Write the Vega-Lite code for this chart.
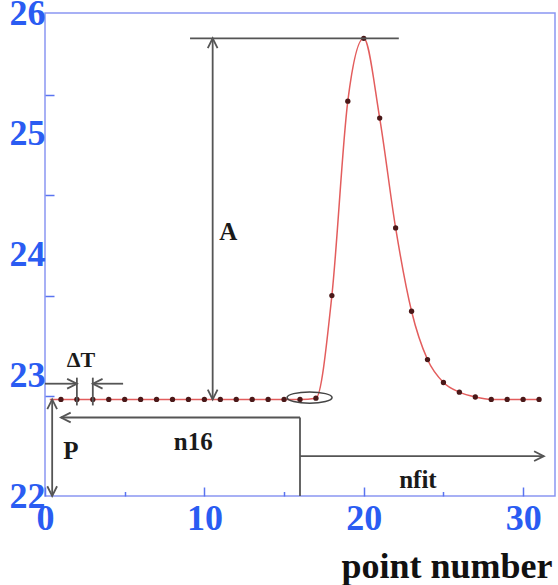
{
  "$schema": "https://vega.github.io/schema/vega-lite/v6.json",
  "width": 510,
  "height": 483,
  "autosize": {"type": "none"},
  "padding": {"left": 45, "top": 13, "right": 3, "bottom": 89},
  "background": "white",
  "config": {
    "view": {"stroke": "#8a96f2", "strokeWidth": 1.5},
    "axis": {
      "grid": false,
      "domain": false,
      "labelFont": "Liberation Serif",
      "labelFontWeight": "bold",
      "labelFontSize": 36,
      "labelColor": "#2a5cf2",
      "tickColor": "#5a74f0",
      "tickWidth": 1.5,
      "labelFlush": false,
      "labelOverlap": false
    }
  },
  "datasets": {
    "samples": [
      {"point": 1, "adc": 22.8}, {"point": 2, "adc": 22.8}, {"point": 3, "adc": 22.8},
      {"point": 4, "adc": 22.8}, {"point": 5, "adc": 22.8}, {"point": 6, "adc": 22.8},
      {"point": 7, "adc": 22.8}, {"point": 8, "adc": 22.8}, {"point": 9, "adc": 22.8},
      {"point": 10, "adc": 22.8}, {"point": 11, "adc": 22.8}, {"point": 12, "adc": 22.8},
      {"point": 13, "adc": 22.8}, {"point": 14, "adc": 22.8}, {"point": 15, "adc": 22.8},
      {"point": 16, "adc": 22.8}, {"point": 17, "adc": 22.81}, {"point": 18, "adc": 23.66},
      {"point": 19, "adc": 25.27}, {"point": 20, "adc": 25.79}, {"point": 21, "adc": 25.13},
      {"point": 22, "adc": 24.22}, {"point": 23, "adc": 23.53}, {"point": 24, "adc": 23.13},
      {"point": 25, "adc": 22.94}, {"point": 26, "adc": 22.86}, {"point": 27, "adc": 22.82},
      {"point": 28, "adc": 22.8}, {"point": 29, "adc": 22.8}, {"point": 30, "adc": 22.8},
      {"point": 31, "adc": 22.8}
    ],
    "fit": [
      {"point": 0.3, "adc": 22.8}, {"point": 4, "adc": 22.8}, {"point": 8, "adc": 22.8},
      {"point": 12, "adc": 22.8}, {"point": 16, "adc": 22.8}, {"point": 17, "adc": 22.81},
      {"point": 18, "adc": 23.66}, {"point": 19, "adc": 25.27}, {"point": 20, "adc": 25.79},
      {"point": 21, "adc": 25.13}, {"point": 22, "adc": 24.22}, {"point": 23, "adc": 23.53},
      {"point": 24, "adc": 23.13}, {"point": 25, "adc": 22.94}, {"point": 26, "adc": 22.86},
      {"point": 27, "adc": 22.82}, {"point": 28, "adc": 22.8}, {"point": 31, "adc": 22.8}
    ],
    "segments": [
      {"name": "amp-top", "x": 9.1, "x2": 22.2, "y": 25.79, "y2": 25.79},
      {"name": "A", "x": 10.52, "x2": 10.52, "y": 22.8, "y2": 25.79},
      {"name": "dT-left", "x": 0, "x2": 2, "y": 22.93, "y2": 22.93},
      {"name": "dT-right", "x": 3, "x2": 4.9, "y": 22.93, "y2": 22.93},
      {"name": "dT-mark2", "x": 2, "x2": 2, "y": 22.75, "y2": 22.98},
      {"name": "dT-mark3", "x": 3, "x2": 3, "y": 22.75, "y2": 22.98},
      {"name": "P", "x": 0.45, "x2": 0.45, "y": 22, "y2": 22.8},
      {"name": "n16", "x": 1, "x2": 16, "y": 22.65, "y2": 22.65},
      {"name": "n16-end", "x": 16, "x2": 16, "y": 22, "y2": 22.65},
      {"name": "nfit", "x": 16, "x2": 31.3, "y": 22.33, "y2": 22.33}
    ],
    "heads": [
      {"x": 10.52, "y": 25.79, "dir": "up"},
      {"x": 10.52, "y": 22.8, "dir": "down"},
      {"x": 2, "y": 22.93, "dir": "right"},
      {"x": 3, "y": 22.93, "dir": "left"},
      {"x": 0.45, "y": 22.8, "dir": "up"},
      {"x": 0.45, "y": 22, "dir": "down"},
      {"x": 1, "y": 22.65, "dir": "left"},
      {"x": 31.3, "y": 22.33, "dir": "right"}
    ],
    "ring": [{"x": 16.6, "y": 22.815}],
    "labels": [
      {"text": "A", "x": 11.5, "y": 24.19, "kind": "big"},
      {"text": "P", "x": 1.63, "y": 22.37, "kind": "big"},
      {"text": "n16", "x": 9.3, "y": 22.45, "kind": "big"},
      {"text": "nfit", "x": 23.4, "y": 22.13, "kind": "big"},
      {"text": "ΔT", "x": 2.25, "y": 23.13, "kind": "small"}
    ]
  },
  "resolve": {"axis": {"x": "independent", "y": "independent"}},
  "layer": [
    {
      "data": {"name": "fit"},
      "mark": {"type": "line", "color": "#e35d5d", "strokeWidth": 1.5, "interpolate": "monotone"},
      "encoding": {
        "x": {
          "field": "point", "type": "quantitative",
          "scale": {"domain": [0, 32], "nice": false, "zero": false},
          "axis": {
            "orient": "bottom", "values": [0, 10, 20, 30], "tickSize": -9,
            "labelPadding": 14,
            "title": "point number", "titleFont": "Liberation Serif", "titleFontWeight": "bold",
            "titleFontSize": 36, "titleColor": "#111111", "titleAnchor": "end",
            "titleAlign": "right", "titleBaseline": "alphabetic", "titleX": 507, "titleY": 81
          }
        },
        "y": {
          "field": "adc", "type": "quantitative",
          "scale": {"domain": [22, 26], "nice": false, "zero": false},
          "axis": {
            "orient": "left", "values": [22, 23, 24, 25, 26], "ticks": false,
            "labelPadding": 0, "labelBaseline": "middle", "title": null
          }
        }
      }
    },
    {
      "data": {"name": "samples"},
      "mark": {"type": "point", "filled": true, "color": "#4a1818", "size": 28, "opacity": 1},
      "encoding": {
        "x": {
          "field": "point", "type": "quantitative",
          "scale": {"domain": [0, 32], "nice": false, "zero": false},
          "axis": {"orient": "bottom", "values": [5, 15, 25], "tickSize": -4.5, "labels": false, "title": null}
        },
        "y": {
          "field": "adc", "type": "quantitative",
          "scale": {"domain": [22, 26], "nice": false, "zero": false},
          "axis": {"orient": "left", "values": [22.83, 23.66, 24.49, 25.32], "tickSize": -9, "labels": false, "title": null}
        }
      }
    },
    {
      "data": {"name": "segments"},
      "mark": {"type": "rule", "color": "#555555", "strokeWidth": 1.8},
      "encoding": {
        "x": {"field": "x", "type": "quantitative", "scale": {"domain": [0, 32], "nice": false, "zero": false}, "axis": null},
        "x2": {"field": "x2"},
        "y": {"field": "y", "type": "quantitative", "scale": {"domain": [22, 26], "nice": false, "zero": false}, "axis": null},
        "y2": {"field": "y2"}
      }
    },
    {
      "data": {"name": "heads"},
      "mark": {"type": "point", "filled": false, "stroke": "#555555", "strokeWidth": 1.8, "size": 380, "opacity": 1},
      "encoding": {
        "x": {"field": "x", "type": "quantitative", "scale": {"domain": [0, 32], "nice": false, "zero": false}, "axis": null},
        "y": {"field": "y", "type": "quantitative", "scale": {"domain": [22, 26], "nice": false, "zero": false}, "axis": null},
        "shape": {
          "field": "dir", "type": "nominal", "legend": null,
          "scale": {
            "domain": ["up", "down", "left", "right"],
            "range": [
              "M-0.5,1L0,0L0.5,1",
              "M-0.5,-1L0,0L0.5,-1",
              "M1,-0.5L0,0L1,0.5",
              "M-1,-0.5L0,0L-1,0.5"
            ]
          }
        }
      }
    },
    {
      "data": {"name": "ring"},
      "mark": {
        "type": "point", "filled": false, "stroke": "#444444", "strokeWidth": 1.5, "size": 2025, "opacity": 1,
        "shape": "M-1,0A1,0.25,0,1,1,1,0A1,0.25,0,1,1,-1,0Z"
      },
      "encoding": {
        "x": {"field": "x", "type": "quantitative", "scale": {"domain": [0, 32], "nice": false, "zero": false}, "axis": null},
        "y": {"field": "y", "type": "quantitative", "scale": {"domain": [22, 26], "nice": false, "zero": false}, "axis": null}
      }
    },
    {
      "data": {"name": "labels"},
      "transform": [{"filter": "datum.kind === 'big'"}],
      "mark": {"type": "text", "font": "Liberation Serif", "fontWeight": "bold", "fontSize": 25, "color": "#1a1a1a", "align": "center", "baseline": "middle"},
      "encoding": {
        "x": {"field": "x", "type": "quantitative", "scale": {"domain": [0, 32], "nice": false, "zero": false}, "axis": null},
        "y": {"field": "y", "type": "quantitative", "scale": {"domain": [22, 26], "nice": false, "zero": false}, "axis": null},
        "text": {"field": "text"}
      }
    },
    {
      "data": {"name": "labels"},
      "transform": [{"filter": "datum.kind === 'small'"}],
      "mark": {"type": "text", "font": "Liberation Serif", "fontWeight": "bold", "fontSize": 22, "color": "#1a1a1a", "align": "center", "baseline": "middle"},
      "encoding": {
        "x": {"field": "x", "type": "quantitative", "scale": {"domain": [0, 32], "nice": false, "zero": false}, "axis": null},
        "y": {"field": "y", "type": "quantitative", "scale": {"domain": [22, 26], "nice": false, "zero": false}, "axis": null},
        "text": {"field": "text"}
      }
    }
  ]
}
